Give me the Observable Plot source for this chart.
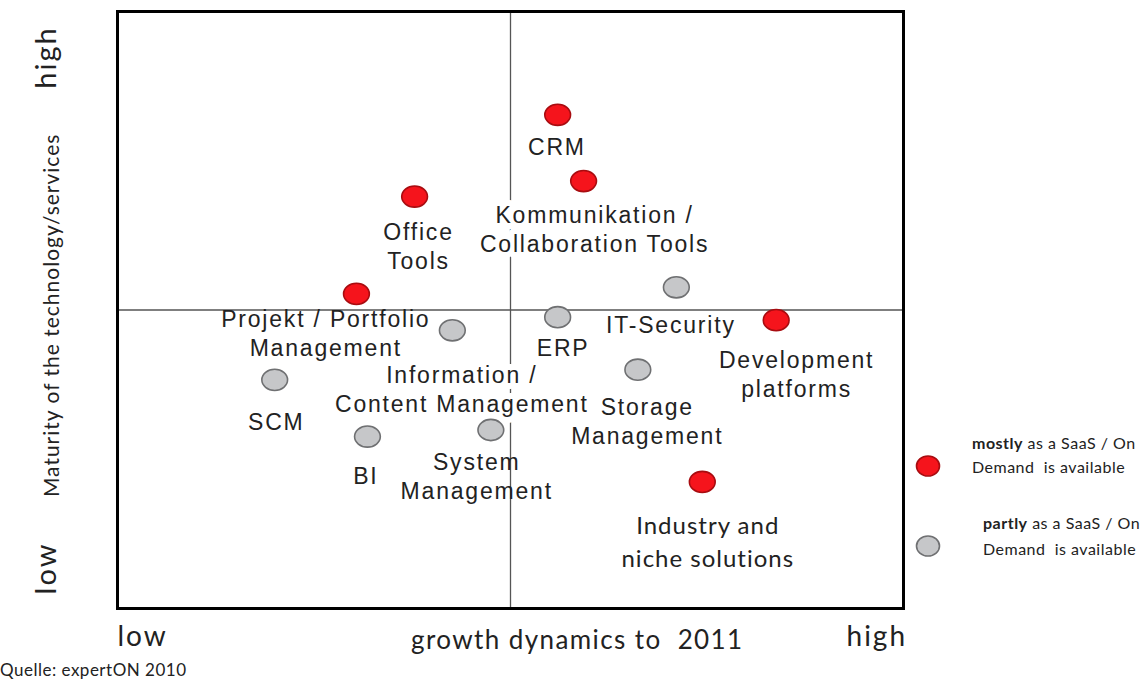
<!DOCTYPE html>
<html><head><meta charset="utf-8">
<script src="https://cdn.jsdelivr.net/npm/d3@7"></script>
<script src="https://cdn.jsdelivr.net/npm/@observablehq/plot@0.6"></script>
<style>
body{margin:0;background:#fff;}
#wrap{position:relative;width:1148px;height:680px;overflow:hidden;}
#wrap svg.plot{display:block;}
g[font-family="Liberation Sans, Arial, sans-serif"] text{letter-spacing:1.8px;}
g[font-family="Lato, Carlito, sans-serif"] text{letter-spacing:1px;}
g[font-family="Lato, Calibri, sans-serif"] text{letter-spacing:2px;}
g[font-family="Lato, Carlito, Calibri, sans-serif"] text{letter-spacing:1.4px;}
g[font-family="Lato, Calibri, Carlito, sans-serif"] text{letter-spacing:1px;}
.leg{position:absolute;font-family:Lato,sans-serif;font-size:16px;letter-spacing:0.5px;color:#222;white-space:nowrap;}
.legdot{position:absolute;}
#caption{position:absolute;left:0px;top:660px;font-family:Lato,sans-serif;font-size:17px;letter-spacing:0.5px;color:#222;line-height:20px;}
</style></head><body><div id="wrap"></div>
<script>
// ---- data (growth dynamics 0..10, maturity 0..10) ----
const labels = ["CRM","Kommunikation /\nCollaboration Tools","Office\nTools","Projekt / Portfolio\nManagement",
  "IT-Security","ERP","Information /\nContent Management","Development\nplatforms",
  "Storage\nManagement","SCM","BI","System\nManagement","Industry and\nniche solutions"];
const growth   = [5.60, 5.93, 3.78, 3.04, 7.11, 5.60, 4.26, 8.38, 6.62, 2.00, 3.18, 4.75, 7.44];
const maturity = [8.27, 7.16, 6.90, 5.27, 5.38, 4.88, 4.66, 4.83, 4.00, 3.83, 2.88, 2.99, 2.12];
const availability = ["mostly","mostly","mostly","mostly","partly","partly","partly","mostly",
  "partly","partly","partly","partly","mostly"];
// label anchor points (same data scale)
const labelGrowth   = [5.59, 6.07, 3.83, 2.65, 7.04, 5.67, 4.38, 8.64, 6.74, 2.02, 3.16, 4.57, 7.51];
const labelMaturity = [7.75, 6.37, 6.08, 4.63, 4.77, 4.38, 3.69, 3.94, 3.15, 3.15, 2.24, 2.23, 1.15];
const labelFont = ["arial","arial","arial","arial","arial","arial","arial","arial","arial","arial","arial","arial","calibri"];
const labelBackground = ["Kommunikation /\nCollaboration Tools","Information /\nContent Management"];

const xTickLabels = ["low","high"];
const xTickValues = [0.32, 9.66];
const yTickLabels = ["low","high"];
const yTickValues = [0.67, 9.23];
const xTitle = "growth dynamics to  2011";
const xTitleValue = 5.85;
const yTitle = "Maturity of the technology/services";
const yTitleValue = 4.91;
const legendLabels = {mostly: "as a SaaS / On", partly: "as a SaaS / On"};
const caption = "Quelle: expertON 2010";
const midpoint = 5;

const colors = {mostly: {fill: "#f5141c", stroke: "#a80c10"}, partly: {fill: "#c6c7c9", stroke: "#6f7072"}};

const rows = labels.map((l, i) => ({label: l, g: growth[i], m: maturity[i], a: availability[i],
  lg: labelGrowth[i], lm: labelMaturity[i], font: labelFont[i]}));

// slightly wide ellipse symbol
const ellipse = {
  draw(ctx, size) {
    const r = Math.sqrt(size / Math.PI);
    const rx = r * 1.12, ry = r * 0.92, k = 0.5523;
    ctx.moveTo(rx, 0);
    ctx.bezierCurveTo(rx, ry * k, rx * k, ry, 0, ry);
    ctx.bezierCurveTo(-rx * k, ry, -rx, ry * k, -rx, 0);
    ctx.bezierCurveTo(-rx, -ry * k, -rx * k, -ry, 0, -ry);
    ctx.bezierCurveTo(rx * k, -ry, rx, -ry * k, rx, 0);
    ctx.closePath();
  }
};

const F_LABEL = "Liberation Sans, Arial, sans-serif";
const F_IND = "Lato, Carlito, sans-serif";
const F_TICK = "Lato, Calibri, sans-serif";
const F_TITLE = "Lato, Carlito, Calibri, sans-serif";
const F_YTITLE = "Lato, Calibri, Carlito, sans-serif";

const arialRows = rows.filter(d => d.font === "arial" && !labelBackground.includes(d.label));
const bgRows = rows.filter(d => labelBackground.includes(d.label));
const calRows = rows.filter(d => d.font === "calibri");

const plot = Plot.plot({
  width: 1148, height: 655,
  marginLeft: 117, marginRight: 245, marginTop: 11, marginBottom: 47,
  x: {domain: [0, 10], axis: null},
  y: {domain: [0, 10], axis: null},
  marks: [
    Plot.ruleX([midpoint], {stroke: "#555", strokeWidth: 1.3}),
    Plot.ruleY([midpoint], {stroke: "#555", strokeWidth: 1.3}),
    Plot.frame({stroke: "#000", strokeWidth: 3}),
    Plot.text(arialRows, {x: "lg", y: "lm", text: "label", fontFamily: F_LABEL,
      fontSize: 23, fill: "#222", lineHeight: 1.27, lineAnchor: "middle"}),
    Plot.text(bgRows, {x: "lg", y: "lm", text: "label", fontFamily: F_LABEL,
      fontSize: 23, fill: "#222", stroke: "white", strokeWidth: 12, lineHeight: 1.25, lineAnchor: "middle"}),
    Plot.text(calRows, {x: "lg", y: "lm", text: "label", fontFamily: F_IND,
      fontSize: 24, fill: "#222", lineHeight: 1.38, lineAnchor: "middle"}),
    Plot.dot(rows, {x: "g", y: "m", r: 11.5, symbol: ellipse,
      fill: d => colors[d.a].fill, stroke: d => colors[d.a].stroke, strokeWidth: 1.6}),
    Plot.text(xTickLabels, {x: xTickValues, text: d => d, frameAnchor: "bottom", dy: 29,
      fontFamily: F_TICK, fontSize: 28, fill: "#222", textAnchor: "middle", lineAnchor: "middle"}),
    Plot.text([xTitle], {x: [xTitleValue], text: d => d, frameAnchor: "bottom", dy: 32,
      fontFamily: F_TITLE, fontSize: 26, fill: "#222", textAnchor: "middle", lineAnchor: "middle"}),
    Plot.text(yTickLabels, {y: yTickValues, text: d => d, frameAnchor: "left", dx: -71, rotate: -90,
      fontFamily: F_TICK, fontSize: 29, fill: "#222", textAnchor: "middle", lineAnchor: "middle"}),
    Plot.text([yTitle], {y: [yTitleValue], text: d => d, frameAnchor: "left", dx: -65, rotate: -90,
      fontFamily: F_YTITLE, fontSize: 21, fill: "#222", textAnchor: "middle", lineAnchor: "middle"})
  ]
});
const wrap = document.getElementById("wrap");
wrap.appendChild(plot);

// legend
function legendDot(kind, cx, cy) {
  const s = document.createElementNS("http://www.w3.org/2000/svg", "svg");
  s.setAttribute("width", 30); s.setAttribute("height", 26);
  s.setAttribute("class", "legdot");
  s.style.left = (cx - 15) + "px"; s.style.top = (cy - 13) + "px";
  const e = document.createElementNS("http://www.w3.org/2000/svg", "ellipse");
  e.setAttribute("cx", 15); e.setAttribute("cy", 13); e.setAttribute("rx", 11.5); e.setAttribute("ry", 10);
  e.setAttribute("fill", colors[kind].fill); e.setAttribute("stroke", colors[kind].stroke); e.setAttribute("stroke-width", 1.6);
  s.appendChild(e);
  wrap.appendChild(s);
}
function legendText(kind, left, top, lh) {
  const d = document.createElement("div");
  d.className = "leg";
  d.style.left = left + "px"; d.style.top = top + "px"; d.style.lineHeight = lh + "px";
  d.innerHTML = `<b>${kind}</b> ${legendLabels[kind]}<br>Demand&nbsp; is available`;
  wrap.appendChild(d);
}
legendDot("mostly", 928, 466);
legendText("mostly", 972, 431, 24);
legendDot("partly", 928, 546);
legendText("partly", 983, 510, 26);

const cap = document.createElement("div");
cap.id = "caption"; cap.textContent = caption;
wrap.appendChild(cap);
</script>
</body></html>
